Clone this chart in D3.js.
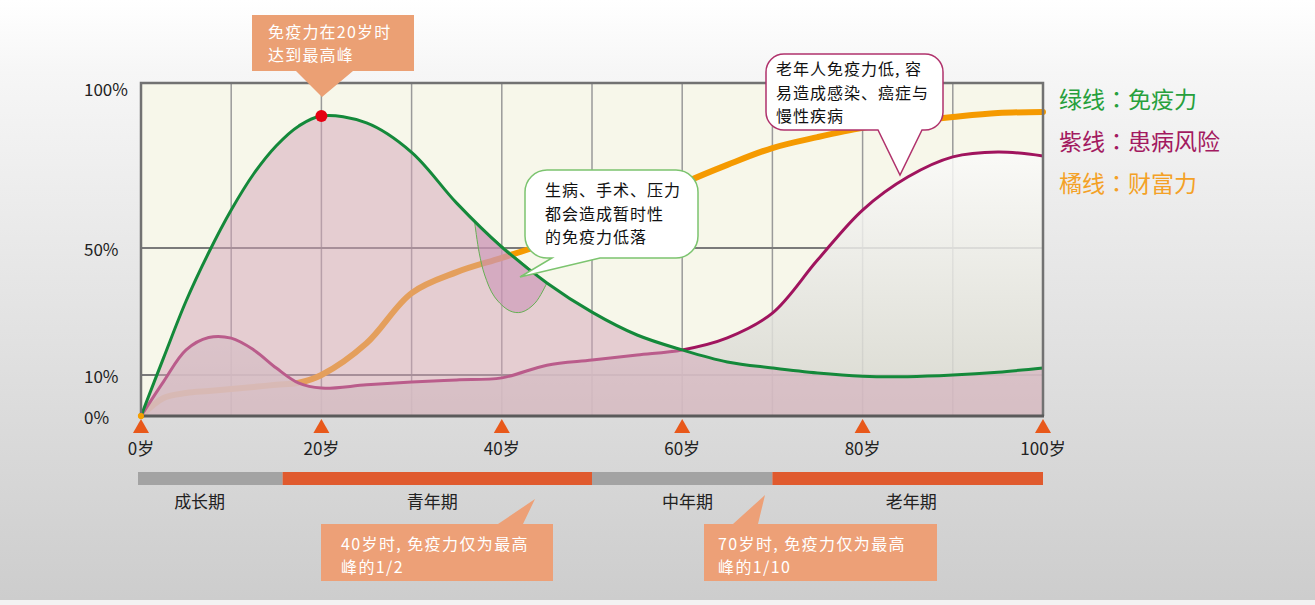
<!DOCTYPE html>
<meta charset="utf-8">
<head>
<style>
  body { margin: 0; background: #fff; }
  svg { display: block; }
  text { font-family: "Noto Sans CJK SC", "Noto Sans", sans-serif; }
</style>
<script src="https://cdn.jsdelivr.net/npm/d3@7"></script>
</head>
<body>
<script>
const width = 1315
const height = 605

// ages on the x axis and the three curves (percent)
const ages = [0, 2.5, 5, 7.5, 10, 12.5, 15, 17.5, 20, 25, 30, 35, 40, 45, 50, 55, 60, 65, 70, 75, 80, 85, 90, 95, 100]
const immunity = [0, 15.4, 33.3, 48.5, 61.5, 72.5, 81, 87, 90, 87.9, 79, 63.6, 50.3, 39, 29.8, 22.6, 17.9, 14.1, 12.2, 10.6, 9.7, 9.6, 10, 10.9, 12.2]
const risk = [0, 8.4, 17.9, 21.8, 21.6, 17.9, 12.2, 8.0, 6.8, 7.6, 8.3, 8.8, 9.3, 13.1, 14.7, 16.3, 17.9, 21.7, 29.5, 46.2, 61.5, 71.5, 77.6, 79.1, 77.9]
const wealth = [0, 4.4, 5.6, 6.1, 6.6, 7.1, 7.6, 8.1, 10, 20, 35.8, 42.4, 46.9, 51.5, 57, 63, 69.5, 75.2, 80.3, 83.6, 86.4, 88.2, 89.7, 90.9, 91.2]

// temporary drop of immunity around 40
const dipAges = [37, 37.5, 38.1, 39.2, 40.9, 42.2, 43.7, 45]
const dipValues = [57.6, 48.4, 41.5, 34.6, 30.2, 29.8, 32.7, 39]

const yTicks = [0, 10, 50, 100]
const yTickLabels = ["0%", "10%", "50%", "100%"]
const xTicks = [0, 20, 40, 60, 80, 100]
const xTickLabels = ["0岁", "20岁", "40岁", "60岁", "80岁", "100岁"]

const stageBreaks = [0, 15.7, 50, 70, 100]
const stageNames = ["成长期", "青年期", "中年期", "老年期"]
const stageLabelAt = [6.5, 32.3, 60.6, 85.4]

const legendNames = ["绿线：免疫力", "紫线：患病风险", "橘线：财富力"]
const legendColors = ["#27a03c", "#a31a60", "#f4a126"]

const x = d3.scaleLinear().domain([0, 100]).range([141, 1043])
const y = d3.scaleLinear().domain([0, 10, 50, 100]).range([416, 375, 248, 83])

const svg = d3.select("body").append("svg")
  .attr("width", width)
  .attr("height", height)

const defs = svg.append("defs")
const pageGrad = defs.append("linearGradient").attr("id", "page").attr("x1", 0).attr("y1", 0).attr("x2", 0).attr("y2", 1)
pageGrad.append("stop").attr("offset", "0%").attr("stop-color", "#ffffff")
pageGrad.append("stop").attr("offset", "12%").attr("stop-color", "#f6f6f6")
pageGrad.append("stop").attr("offset", "100%").attr("stop-color", "#cdcdcd")

const riskGrad = defs.append("linearGradient").attr("id", "riskfill")
  .attr("gradientUnits", "userSpaceOnUse").attr("x1", 0).attr("y1", 120).attr("x2", 0).attr("y2", 416)
riskGrad.append("stop").attr("offset", "0%").attr("stop-color", "#ffffff").attr("stop-opacity", 0.85)
riskGrad.append("stop").attr("offset", "100%").attr("stop-color", "#d4d4cc").attr("stop-opacity", 0.85)

svg.append("rect").attr("width", width).attr("height", 600).attr("fill", "url(#page)")
svg.append("rect").attr("y", 600).attr("width", width).attr("height", 5).attr("fill", "#f3f3f3")

// plot background
svg.append("rect")
  .attr("x", x(0)).attr("y", y(100))
  .attr("width", x(100) - x(0)).attr("height", y(0) - y(100))
  .attr("fill", "#f7f7ea")

// grid
svg.append("g").selectAll("line")
  .data(d3.range(10, 100, 10))
  .join("line")
  .attr("x1", d => x(d)).attr("x2", d => x(d))
  .attr("y1", y(100)).attr("y2", y(0))
  .attr("stroke", "#9a9a9a").attr("stroke-width", 1.5)

svg.append("g").selectAll("line")
  .data([10, 50])
  .join("line")
  .attr("x1", x(0)).attr("x2", x(100))
  .attr("y1", d => y(d)).attr("y2", d => y(d))
  .attr("stroke", "#7a7a7a").attr("stroke-width", 2)

const pts = vals => ages.map((a, i) => [a, vals[i]])
const line = d3.line().x(d => x(d[0])).y(d => y(d[1])).curve(d3.curveCatmullRom.alpha(0.5))
const area = d3.area().x(d => x(d[0])).y0(y(0)).y1(d => y(d[1])).curve(d3.curveCatmullRom.alpha(0.5))

// wealth line (under the fills)
svg.append("path").attr("d", line(pts(wealth)))
  .attr("fill", "none").attr("stroke", "#f59a00").attr("stroke-width", 6).attr("stroke-linecap", "round")

// risk area
svg.append("path").attr("d", area(pts(risk))).attr("fill", "url(#riskfill)")

// risk line
svg.append("path").attr("d", line(pts(risk)))
  .attr("fill", "none").attr("stroke", "#a0145e").attr("stroke-width", 3)

// immunity area
svg.append("path").attr("d", area(pts(immunity)))
  .attr("fill", "#d4a4b8").attr("fill-opacity", 0.5)

// dip
const dip = dipAges.map((a, i) => [a, dipValues[i]])
svg.append("path")
  .attr("d", d3.line().x(d => x(d[0])).y(d => y(d[1])).curve(d3.curveCatmullRom.alpha(0.5))(dip) + "Z")
  .attr("fill", "#c98fb5").attr("fill-opacity", 0.55)
  .attr("stroke", "#66b054").attr("stroke-width", 1)

// immunity line
svg.append("path").attr("d", line(pts(immunity)))
  .attr("fill", "none").attr("stroke", "#14893a").attr("stroke-width", 3)

// frame
svg.append("path")
  .attr("d", `M${x(0)},${y(0)}V${y(100)}H${x(100)}V${y(0)}`)
  .attr("fill", "none").attr("stroke", "#727272").attr("stroke-width", 2.5)
svg.append("line")
  .attr("x1", x(0) - 1).attr("x2", x(100) + 1).attr("y1", y(0)).attr("y2", y(0))
  .attr("stroke", "#5a5a5a").attr("stroke-width", 3)

svg.append("circle").attr("cx", x(0)).attr("cy", y(0)).attr("r", 3).attr("fill", "#f5a000")

// peak dot
svg.append("circle").attr("cx", x(20)).attr("cy", y(90)).attr("r", 6).attr("fill", "#e60012")

// y labels
svg.append("g").selectAll("text")
  .data(yTicks)
  .join("text")
  .attr("x", 84)
  .attr("y", d => y(d) + (d == 100 ? 5 : 0))
  .attr("dominant-baseline", "central")
  .attr("font-size", 17).attr("fill", "#222")
  .text((d, i) => yTickLabels[i])

// x ticks
svg.append("g").selectAll("path")
  .data(xTicks)
  .join("path")
  .attr("d", d => `M${x(d) - 8},433L${x(d)},419L${x(d) + 8},433Z`)
  .attr("fill", "#e8581a")

svg.append("g").selectAll("text")
  .data(xTicks)
  .join("text")
  .attr("x", d => x(d)).attr("y", 455)
  .attr("text-anchor", "middle")
  .attr("font-size", 17).attr("fill", "#222")
  .text((d, i) => xTickLabels[i])

// life stages
svg.append("g").selectAll("rect")
  .data(stageNames)
  .join("rect")
  .attr("x", (d, i) => x(stageBreaks[i]) - (i == 0 ? 3 : 0))
  .attr("width", (d, i) => x(stageBreaks[i + 1]) - x(stageBreaks[i]) + (i == 0 ? 3 : 0))
  .attr("y", 472).attr("height", 13)
  .attr("fill", (d, i) => i % 2 ? "#e05a2e" : "#a3a3a3")

svg.append("g").selectAll("text")
  .data(stageNames)
  .join("text")
  .attr("x", (d, i) => x(stageLabelAt[i])).attr("y", 508)
  .attr("text-anchor", "middle")
  .attr("font-size", 17).attr("fill", "#222")
  .text(d => d)

// legend
svg.append("g").selectAll("text")
  .data(legendNames)
  .join("text")
  .attr("x", 1059).attr("y", (d, i) => 108 + i * 42)
  .attr("font-size", 23)
  .style("font-family", '"Noto Sans CJK TC", sans-serif')
  .attr("fill", (d, i) => legendColors[i])
  .text(d => d)

// callouts
function bubble(x0, y0, x1, y1, r, tail) {
  const p = d3.path()
  p.moveTo(x0 + r, y0)
  p.lineTo(x1 - r, y0)
  p.arcTo(x1, y0, x1, y0 + r, r)
  p.lineTo(x1, y1 - r)
  p.arcTo(x1, y1, x1 - r, y1, r)
  p.lineTo(tail[1], y1)
  p.lineTo(tail[2][0], tail[2][1])
  p.lineTo(tail[0], y1)
  p.lineTo(x0 + r, y1)
  p.arcTo(x0, y1, x0, y1 - r, r)
  p.lineTo(x0, y0 + r)
  p.arcTo(x0, y0, x0 + r, y0, r)
  p.closePath()
  return p.toString()
}

function boxUp(x0, y0, x1, y1, tail) {
  return `M${x0},${y0}H${tail[0]}L${tail[2][0]},${tail[2][1]}L${tail[1]},${y0}H${x1}V${y1}H${x0}Z`
}

function lines(xp, ys, arr, color, size, ls) {
  svg.append("g").selectAll("text")
    .data(arr)
    .join("text")
    .attr("x", xp).attr("y", (d, i) => ys[i])
    .attr("font-size", size).attr("fill", color)
    .attr("letter-spacing", ls)
    .text(d => d)
}

// top peak callout
svg.append("path")
  .attr("d", bubble(252, 15, 414, 71, 0, [296, 353, [322, 97]]))
  .attr("fill", "#eba074")
lines(268, [38, 61], ["免疫力在20岁时", "达到最高峰"], "#fff", 16, 1.2)

// green bubble
svg.append("path")
  .attr("d", bubble(525, 170, 698, 258, 22, [552, 600, [520, 277]]))
  .attr("fill", "#fff").attr("stroke", "#7cc46f").attr("stroke-width", 1.5)
lines(545, [196, 219.5, 243], ["生病、手术、压力", "都会造成暂时性", "的免疫力低落"], "#111", 16, 1)

// purple bubble
svg.append("path")
  .attr("d", bubble(766, 54, 943, 130, 18, [878, 922, [900, 175]]))
  .attr("fill", "#fff").attr("stroke", "#b0326c").attr("stroke-width", 1.5)
lines(776, [75, 98.5, 122], ["老年人免疫力低, 容", "易造成感染、癌症与", "慢性疾病"], "#111", 16, 1)

// bottom callouts
svg.append("path")
  .attr("d", boxUp(321, 524, 553, 581, [498, 523, [535, 499]]))
  .attr("fill", "#eda077")
lines(341, [550, 573], ["40岁时, 免疫力仅为最高", "峰的1/2"], "#fff", 16, 1.4)

svg.append("path")
  .attr("d", boxUp(704, 524, 937, 581, [733, 758, [765, 495]]))
  .attr("fill", "#eda077")
lines(718, [550, 573], ["70岁时, 免疫力仅为最高", "峰的1/10"], "#fff", 16, 1.4)
</script>
</body>
